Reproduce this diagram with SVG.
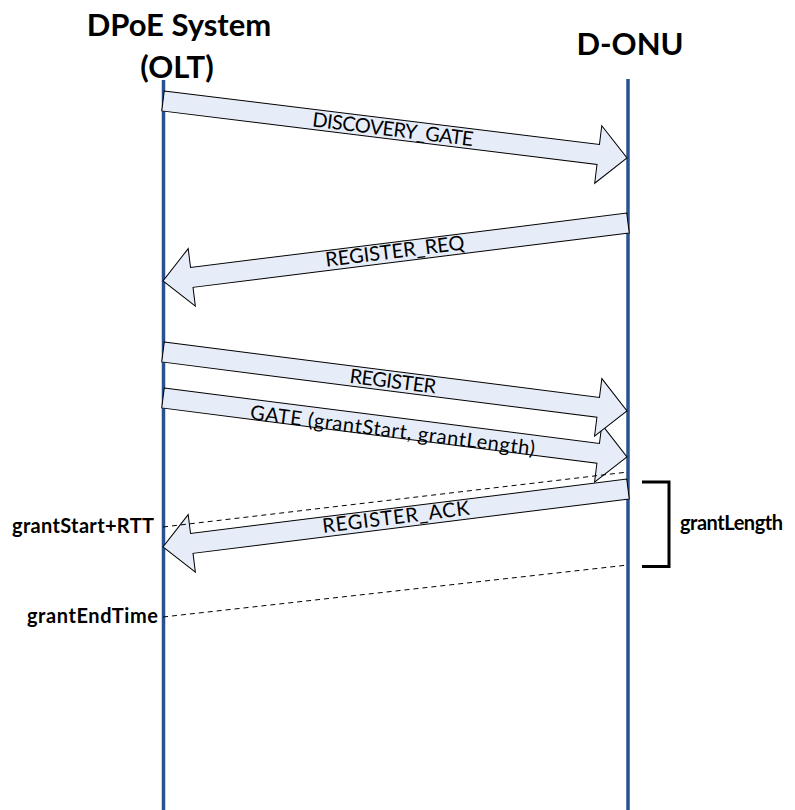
<svg xmlns="http://www.w3.org/2000/svg" width="795" height="810" viewBox="0 0 795 810">
<style>
.title{font-family:Lato,"Liberation Sans",sans-serif;font-weight:bold;font-size:31px;fill:#000;text-anchor:middle}
.lbl{font-family:Lato,"Liberation Sans",sans-serif;font-size:20px;fill:#000;text-anchor:middle}
.side{font-family:Lato,"Liberation Sans",sans-serif;font-weight:bold;font-size:20px;fill:#000}
.life{stroke:#2B5290;stroke-width:3.5;fill:none}
.arrow{fill:#E6EDF8;stroke:#000;stroke-width:1}
.dash{stroke:#000;stroke-width:1;stroke-dasharray:5,4;fill:none}
.bracket{stroke:#000;stroke-width:3;fill:none}
</style>
<rect width="795" height="810" fill="#fff"/>
<g id="olt">
<text class="title" x="179" y="36">DPoE System</text>
<text class="title" x="177" y="78">(OLT)</text>
<line class="life" x1="163.5" y1="80" x2="163.5" y2="810"/>
</g>
<g id="donu">
<text class="title" x="630" y="55">D-ONU</text>
<line class="life" x1="628" y1="79" x2="628" y2="810"/>
</g>
<g id="connectors">
<g id="discovery_gate">
<polygon class="arrow" transform="translate(163,101) rotate(7.003)" points="0,-10 438.5,-10 438.5,-29 467.5,0 438.5,29 438.5,10 0,10"/>
<text class="lbl" transform="translate(393,129.3) rotate(7.003)" x="0" y="7" textLength="162">DISCOVERY_GATE</text>
</g>
<g id="register_req">
<polygon class="arrow" transform="translate(628,223) rotate(172.89)" points="0,-10 439.6,-10 439.6,-29 468.6,0 439.6,29 439.6,10 0,10"/>
<text class="lbl" transform="translate(395,252.1) rotate(-7.11)" x="0" y="6" textLength="140">REGISTER_REQ</text>
</g>
<g id="gate">
<polygon class="arrow" transform="translate(163,398) rotate(7.247)" points="0,-10 438.7,-10 438.7,-29 467.7,0 438.7,29 438.7,10 0,10"/>
<text class="lbl" transform="translate(393,427.3) rotate(7.247)" x="0" y="10" textLength="287">GATE (grantStart, grantLength)</text>
</g>
<g id="register">
<polygon class="arrow" transform="translate(163,352) rotate(7.247)" points="0,-10 438.7,-10 438.7,-29 467.7,0 438.7,29 438.7,10 0,10"/>
<text class="lbl" transform="translate(393,381.2) rotate(7.247)" x="0" y="7" textLength="87">REGISTER</text>
</g>
<g id="register_ack">
<polygon class="arrow" transform="translate(628,489) rotate(172.89)" points="0,-10 439.6,-10 439.6,-29 468.6,0 439.6,29 439.6,10 0,10"/>
<text class="lbl" transform="translate(396,517.9) rotate(-7.11)" x="0" y="6" textLength="148">REGISTER_ACK</text>
</g>
<line class="dash" x1="163" y1="527" x2="628" y2="472"/>
<line class="dash" x1="163" y1="617" x2="628" y2="565"/>
</g>
<g id="grant_length">
<polyline class="bracket" points="642,482 669,482 669,566.5 642,566.5"/>
<text class="side" x="680" y="530" textLength="103">grantLength</text>
</g>
<g id="grant_start_rtt">
<text class="side" x="154" y="533" text-anchor="end" textLength="142">grantStart+RTT</text>
</g>
<g id="grant_end_time">
<text class="side" x="158" y="623" text-anchor="end" textLength="131">grantEndTime</text>
</g>
</svg>
